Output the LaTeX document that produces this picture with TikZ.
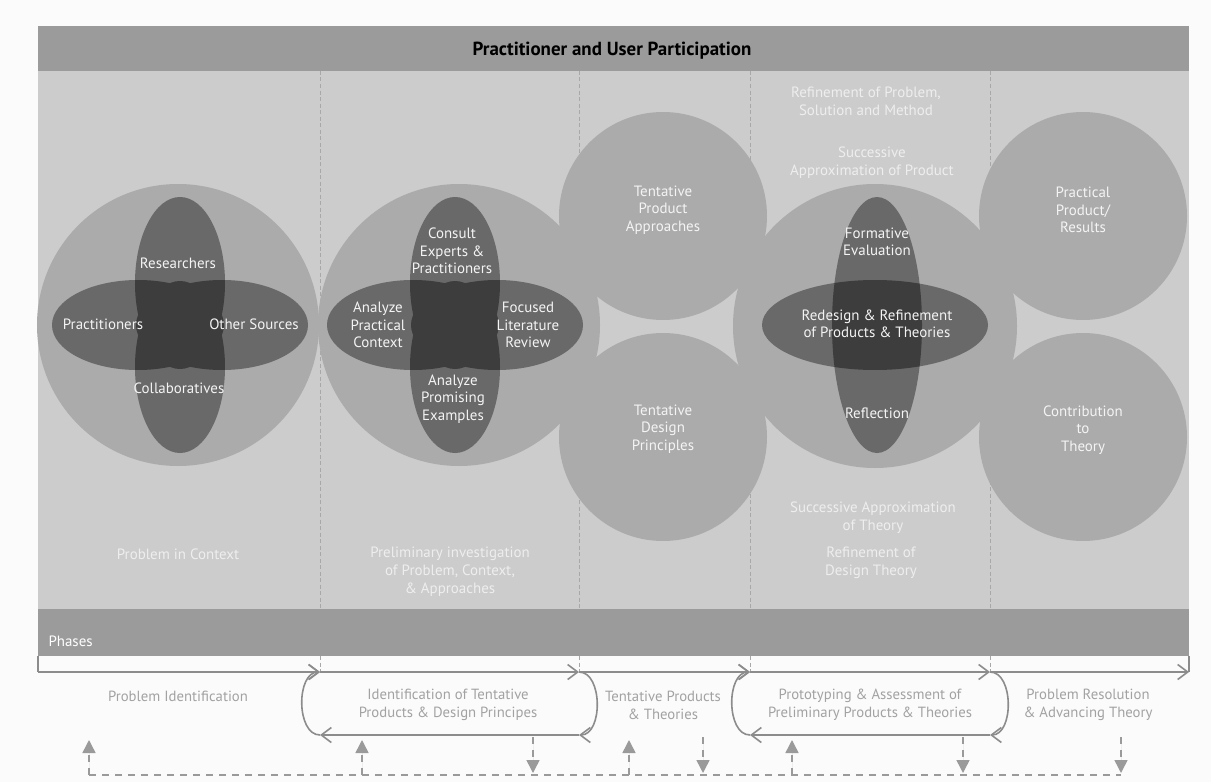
\documentclass[tikz,border=0pt]{standalone}
\usepackage{fontspec}
\setmainfont{PT Sans}
\usetikzlibrary{arrows.meta}
\definecolor{pagec}{HTML}{FBFBFB}
\definecolor{bandc}{HTML}{9B9B9B}
\definecolor{panelc}{HTML}{CCCCCC}
\definecolor{discc}{HTML}{ABABAB}
\definecolor{petalc}{HTML}{696969}
\definecolor{petaldk}{HTML}{3D3D3D}
\definecolor{divc}{HTML}{A8A8A8}
\definecolor{flowc}{HTML}{8C8C8C}
\definecolor{fbc}{HTML}{9A9A9A}
\definecolor{softc}{HTML}{EEEEEE}
\definecolor{phc}{HTML}{A2A2A2}
\definecolor{intc}{HTML}{F4F4F4}
\begin{document}
\begin{tikzpicture}[x=1bp,y=-1bp,
  disc/.style={circle, fill=discc, inner sep=0pt, minimum size=#1},
  intext/.style={text=intc, align=center, font=\fontsize{15}{17.5}\selectfont},
  softtext/.style={text=softc, align=center, font=\fontsize{15}{18}\selectfont},
  phtext/.style={text=phc, align=center, font=\fontsize{14.8}{18}\selectfont},
  flow/.style={draw=flowc, line width=1.6bp, -{Straight Barb[length=10bp,width=15bp,line width=1.6bp]}},
  plain/.style={draw=flowc, line width=1.6bp},
  fb/.style={draw=fbc, line width=1.5bp, dash pattern=on 7bp off 6bp},
  tipT/.style={-{Triangle[length=13bp,width=13bp]}},
  divider/.style={draw=divc, line width=0.8bp, dash pattern=on 4bp off 2.5bp},
]
\useasboundingbox (0,0) rectangle (1211,782);
\fill[pagec] (0,0) rectangle (1211,782);

% bands and panel
\fill[bandc] (38,26) rectangle (1189,71);
\fill[panelc] (38,71) rectangle (1189,609);
\fill[bandc] (38,609) rectangle (1189,656);

% dividers
\foreach \x in {320,579,750,990} {
  \draw[divider] (\x,71) -- (\x,609);
  \draw[divider] (\x,656) -- (\x,672);
}

% discs
\node[disc=208bp] (c3a) at (663,216) {};
\node[disc=208bp] (c3b) at (663,437) {};
\node[disc=208bp] (c5a) at (1083,216) {};
\node[disc=208bp] (c5b) at (1083,437) {};
\node[disc=282bp] (c1) at (178,325) {};
\node[disc=282bp] (c2) at (459,325) {};
\node[disc=284bp] (c4) at (875,326) {};

% petals, circle 1
\fill[petalc] (180,283) ellipse [x radius=45, y radius=86];
\fill[petalc] (180,367) ellipse [x radius=45, y radius=86];
\fill[petalc] (138,325) ellipse [x radius=86, y radius=45];
\fill[petalc] (222,325) ellipse [x radius=86, y radius=45];
\begin{scope}
  \clip (180,283) ellipse [x radius=45, y radius=86];
  \fill[petaldk] (180,367) ellipse [x radius=45, y radius=86];
  \fill[petaldk] (138,325) ellipse [x radius=86, y radius=45];
  \fill[petaldk] (222,325) ellipse [x radius=86, y radius=45];
\end{scope}
\begin{scope}
  \clip (180,367) ellipse [x radius=45, y radius=86];
  \fill[petaldk] (138,325) ellipse [x radius=86, y radius=45];
  \fill[petaldk] (222,325) ellipse [x radius=86, y radius=45];
\end{scope}
\begin{scope}
  \clip (138,325) ellipse [x radius=86, y radius=45];
  \fill[petaldk] (222,325) ellipse [x radius=86, y radius=45];
\end{scope}

% petals, circle 2
\fill[petalc] (455,283) ellipse [x radius=45, y radius=86];
\fill[petalc] (455,367) ellipse [x radius=45, y radius=86];
\fill[petalc] (413,325) ellipse [x radius=86, y radius=45];
\fill[petalc] (497,325) ellipse [x radius=86, y radius=45];
\begin{scope}
  \clip (455,283) ellipse [x radius=45, y radius=86];
  \fill[petaldk] (455,367) ellipse [x radius=45, y radius=86];
  \fill[petaldk] (413,325) ellipse [x radius=86, y radius=45];
  \fill[petaldk] (497,325) ellipse [x radius=86, y radius=45];
\end{scope}
\begin{scope}
  \clip (455,367) ellipse [x radius=45, y radius=86];
  \fill[petaldk] (413,325) ellipse [x radius=86, y radius=45];
  \fill[petaldk] (497,325) ellipse [x radius=86, y radius=45];
\end{scope}
\begin{scope}
  \clip (413,325) ellipse [x radius=86, y radius=45];
  \fill[petaldk] (497,325) ellipse [x radius=86, y radius=45];
\end{scope}

% petals, circle 4
\fill[petalc] (877,325) ellipse [x radius=45, y radius=128];
\fill[petalc] (875,325) ellipse [x radius=113, y radius=45];
\begin{scope}
  \clip (877,325) ellipse [x radius=45, y radius=128];
  \fill[petaldk] (875,325) ellipse [x radius=113, y radius=45];
\end{scope}

% header texts
\node[font=\bfseries\fontsize{19}{22}\selectfont, text=black] (title) at (612,51) {Practitioner and User Participation};
\node[anchor=west, text=white, font=\fontsize{15}{17}\selectfont] (phases) at (45,641) {Phases};

% circle texts
\node[intext] (t1) at (178,263) {Researchers};
\node[intext] (t2) at (103,324) {Practitioners};
\node[intext] (t3) at (254,324) {Other Sources};
\node[intext] (t4) at (179,388) {Collaboratives};

\node[intext] (t5) at (452,251) {Consult\\Experts \&\\Practitioners};
\node[intext] (t6) at (378,325) {Analyze\\Practical\\Context};
\node[intext] (t7) at (528,325) {Focused\\Literature\\Review};
\node[intext] (t8) at (453,399) {Analyze\\Promising\\Examples};

\node[intext] (t9) at (663,210) {Tentative\\Product\\Approaches};
\node[intext] (t10) at (663,429) {Tentative\\Design\\Principles};

\node[intext] (t11) at (877,242) {Formative\\Evaluation};
\node[intext] (t12) at (877,324) {Redesign \& Refinement\\of Products \& Theories};
\node[intext] (t13) at (877,413) {Reflection};

\node[intext] (t14) at (1083,210) {Practical\\Product/\\Results};
\node[intext] (t15) at (1083,430) {Contribution\\to\\Theory};

% soft texts in panel
\node[softtext] (s1) at (866,101) {Refinement of Problem,\\Solution and Method};
\node[softtext] (s2) at (872,163) {Successive\\Approximation of Product};
\node[softtext] (s3) at (873,518) {Successive Approximation\\of Theory};
\node[softtext] (s4) at (871,563) {Refinement of\\Design Theory};
\node[softtext] (s5) at (178,554) {Problem in Context};
\node[softtext] (s6) at (450,572) {Preliminary investigation\\of Problem, Context,\\\& Approaches};

% phase labels
\node[phtext] (p1) at (178,696) {Problem Identification};
\node[phtext] (p2) at (448,705) {Identification of Tentative\\Products \& Design Principes};
\node[phtext] (p3) at (663,705) {Tentative Products\\\& Theories};
\node[phtext] (p4) at (870,705) {Prototyping \& Assessment of\\Preliminary Products \& Theories};
\node[phtext] (p5) at (1088,705) {Problem Resolution\\\& Advancing Theory};

% main flow line
\coordinate (a0t) at (38,656);
\coordinate (a0) at (38,672);
\coordinate (a1) at (320,672);
\coordinate (a2) at (579,672);
\coordinate (a3) at (750,672);
\coordinate (a4) at (990,672);
\coordinate (a5) at (1189,672);
\coordinate (a5t) at (1189,656);
\coordinate (b1) at (320,735);
\coordinate (b2) at (579,735);
\coordinate (b3) at (750,735);
\coordinate (b4) at (990,735);
\draw[plain] (a0t) -- (a0);
\draw[plain] (a5t) -- (a5);
\draw[flow] (a0) -- (a1);
\draw[flow] (a1) -- (a2);
\draw[flow] (a2) -- (a3);
\draw[flow] (a3) -- (a4);
\draw[flow] (a4) -- (a5);
% loop 1
\draw[flow] (a2) .. controls +(24,0) and +(24,0) .. (b2);
\draw[flow] (b2) -- (b1);
\draw[flow] (b1) .. controls +(-24,0) and +(-24,0) .. (a1);
% loop 2
\draw[flow] (a4) .. controls +(24,0) and +(24,0) .. (b4);
\draw[flow] (b4) -- (b3);
\draw[flow] (b3) .. controls +(-24,0) and +(-24,0) .. (a3);

% feedback dashed line
\coordinate (f0) at (89,775);
\coordinate (f1) at (1121,775);
\draw[fb] (f0) -- (f1);
\foreach \x [count=\i] in {89,362,629,792} {
  \coordinate (ub\i) at (\x,775);
  \coordinate (ut\i) at (\x,740);
  \draw[fb, tipT, fill=fbc] (ub\i) -- (ut\i);
}
\foreach \x [count=\i] in {533,703,963,1121} {
  \coordinate (dt\i) at (\x,737);
  \coordinate (db\i) at (\x,773);
  \draw[fb, tipT, fill=fbc] (dt\i) -- (db\i);
}
\end{tikzpicture}
\end{document}
